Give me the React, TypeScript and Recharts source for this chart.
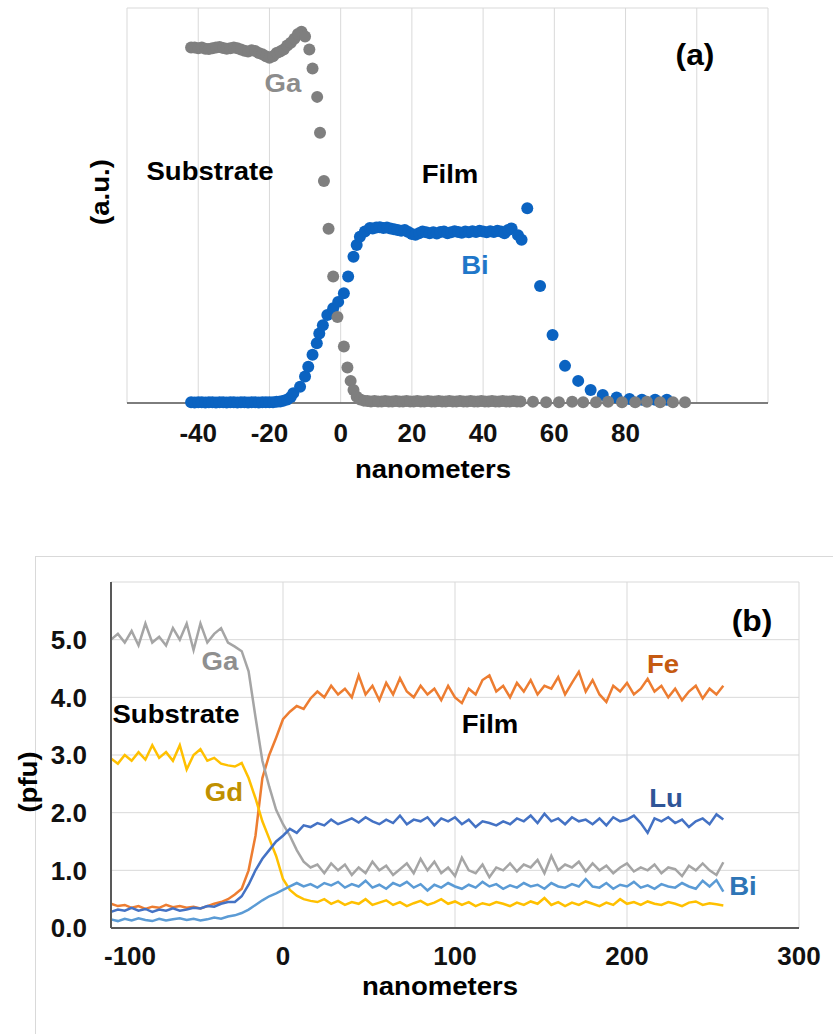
import React from 'react'
import { ScatterChart, Scatter, LineChart, Line, XAxis, YAxis, CartesianGrid } from 'recharts'

const font = '"Liberation Sans", Arial, sans-serif'

// ---- panel (a): depth profile, arbitrary units ----
const ticksA = [-60, -40, -20, 0, 20, 40, 60, 80, 100, 120]
const labelsA = [-40, -20, 0, 20, 40, 60, 80]
const yTicksA = [0, 1, 2, 3, 4, 5, 6, 7, 8, 9, 10]

const gaAX = [
  -42, -41, -40, -39, -38, -37, -36, -35, -34, -33, -32, -31, -30, -29, -28, -27, -26, -25, -24, -23, -22, -21, -20,
  -19, -18, -17, -16, -15, -14, -13, -12, -11, -10,
  -8.8, -7.9, -6.6, -5.8, -4.7, -3.4, -2.1, -0.9, 0.9, 1.9, 2.8, 3.6, 4.5, 5.5, 6.5,
  7.5, 8.5, 9.5, 10.5, 11.5, 12.5, 13.5, 14.5, 15.5, 16.5, 17.5, 18.5, 19.5, 20.5, 21.5, 22.5, 23.5, 24.5, 25.5, 26.5,
  27.5, 28.5, 29.5, 30.5, 31.5, 32.5, 33.5, 34.5, 35.5, 36.5, 37.5, 38.5, 39.5, 40.5, 41.5, 42.5, 43.5, 44.5, 45.5,
  46.5, 47.5, 48.5, 49.5, 50.5,
  54.0, 57.7, 61.3, 65.0, 68.1, 71.7, 75.1, 79.0, 82.7, 86.0, 89.7, 93.3, 96.7,
]
const gaAY = [
  9.0, 9.0, 8.98, 9.0, 8.97, 8.96, 8.98, 9.0, 9.01, 8.99, 8.97, 8.98, 9.0, 8.98, 8.95, 8.92, 8.9, 8.93, 8.91, 8.86,
  8.83, 8.78, 8.74, 8.78, 8.86, 8.9, 8.95, 9.05, 9.12, 9.22, 9.34, 9.4, 9.28,
  8.95, 8.47, 7.75, 6.84, 5.62, 4.41, 3.2, 2.18, 1.43, 0.9, 0.56, 0.33, 0.16, 0.09, 0.06,
  0.05, 0.04, 0.05, 0.04, 0.04, 0.05, 0.04, 0.04, 0.05, 0.04, 0.04, 0.05, 0.04, 0.04, 0.05, 0.04, 0.04, 0.05, 0.04,
  0.04, 0.05, 0.04, 0.04, 0.05, 0.04, 0.04, 0.05, 0.04, 0.04, 0.05, 0.04, 0.04, 0.05, 0.04, 0.04, 0.05, 0.04, 0.04,
  0.05, 0.04, 0.04, 0.05, 0.04, 0.04,
  0.03, 0.02, 0.02, 0.03, 0.02, 0.02, 0.03, 0.02, 0.02, 0.03, 0.02, 0.02, 0.02,
]

const biAX = [
  -42, -41, -40, -39, -38, -37, -36, -35, -34, -33, -32, -31, -30, -29, -28, -27, -26, -25, -24, -23, -22, -21, -20,
  -19, -18, -17, -16, -15, -14,
  -13.3, -11.4, -10, -9.1, -7.9, -6.7, -6.0, -5.0, -3.75, -2.1, -0.7, 0.9, 2.1, 3.6, 4.5, 5.4, 6.8, 8.2,
  9, 10, 11, 12, 13, 14, 15, 16, 17, 18, 19, 20, 21, 22, 23, 24, 25, 26, 27, 28, 29, 30, 31, 32, 33, 34, 35, 36, 37,
  38, 39, 40, 41, 42, 43, 44, 45, 46, 47, 48,
  49.8, 50.8, 52.4, 56.0, 59.5, 63.0, 66.7, 70.2, 73.6, 77.5, 81.1, 84.6, 88.3, 91.6,
]
const biAY = [
  0.02, 0.01, 0.02, 0.02, 0.01, 0.02, 0.02, 0.01, 0.02, 0.02, 0.01, 0.02, 0.02, 0.01, 0.02, 0.02, 0.01, 0.02, 0.02,
  0.01, 0.02, 0.02, 0.02, 0.02, 0.03, 0.04, 0.06, 0.09, 0.15,
  0.25, 0.41, 0.67, 0.92, 1.22, 1.51, 1.76, 1.97, 2.23, 2.4, 2.56, 2.78, 3.2, 3.7, 4.0, 4.21, 4.34, 4.43,
  4.42, 4.44, 4.45, 4.43, 4.44, 4.42, 4.4, 4.38, 4.36, 4.38, 4.33, 4.28, 4.26, 4.3, 4.34, 4.32, 4.3, 4.32, 4.29, 4.33,
  4.34, 4.3, 4.32, 4.35, 4.33, 4.31, 4.34, 4.32, 4.35, 4.33, 4.36, 4.34, 4.32, 4.35, 4.33, 4.36, 4.34, 4.3, 4.38, 4.42,
  4.25, 4.13, 4.93, 2.96, 1.72, 0.94, 0.56, 0.33, 0.2, 0.14, 0.1, 0.08, 0.08, 0.08,
]

// ---- panel (b): depth profile, pfu ----
const xB = [
  -100, -96, -92, -88, -84, -80, -76, -72, -68, -64,
  -60, -56, -52, -48, -44, -40, -36, -32, -28, -24,
  -20, -16, -12, -8, -4, 0, 4, 8, 12, 16,
  20, 24, 28, 32, 36, 40, 44, 48, 52, 56,
  60, 64, 68, 72, 76, 80, 84, 88, 92, 96,
  100, 104, 108, 112, 116, 120, 124, 128, 132, 136,
  140, 144, 148, 152, 156, 160, 164, 168, 172, 176,
  180, 184, 188, 192, 196, 200, 204, 208, 212, 216,
  220, 224, 228, 232, 236, 240, 244, 248, 252, 256,
]
const feB = [
  0.42, 0.38, 0.4, 0.35, 0.38, 0.33, 0.37, 0.35, 0.4, 0.36,
  0.38, 0.35, 0.37, 0.34, 0.38, 0.42, 0.45, 0.5, 0.58, 0.68,
  1.0, 1.6, 2.6, 3.0, 3.3, 3.62, 3.75, 3.85, 3.8, 3.98,
  4.1, 4.0, 4.2, 4.05, 4.15, 4.0, 4.38, 4.05, 4.2, 3.95,
  4.25, 4.05, 4.33, 4.1, 4.0, 4.2, 4.05, 4.15, 3.95, 4.2,
  4.0, 3.9, 4.15, 4.05, 4.3, 4.38, 4.1, 4.2, 4.0, 4.25,
  4.1, 4.3, 4.05, 4.2, 4.15, 4.35, 4.05, 4.25, 4.44, 4.1,
  4.3, 4.05, 3.92, 4.2, 4.1, 4.25, 4.05, 4.15, 4.32, 4.1,
  4.2, 4.0, 4.15, 3.95, 4.1, 4.2, 3.98, 4.15, 4.05, 4.2,
]
const gaB = [
  5.0, 5.1, 4.95, 5.15, 4.9, 5.28, 4.95, 5.05, 4.9, 5.2,
  5.0, 5.28, 4.82, 5.28, 4.95, 5.1, 5.2, 4.95, 4.88, 4.8,
  4.45, 3.66, 2.9, 2.45, 2.05, 1.8, 1.6, 1.35, 1.15, 1.05,
  1.1, 0.95, 1.12, 1.0, 1.1, 0.92, 1.05, 0.95, 1.15, 1.0,
  1.08, 0.92, 1.02, 1.12, 0.95, 1.2, 1.0, 1.15, 0.95, 1.05,
  0.9, 1.22, 1.0, 0.95, 1.1, 0.88, 1.05, 1.0, 1.12, 0.98,
  1.1, 1.05, 1.18, 0.95, 1.25, 1.0, 1.1, 1.05, 1.15, 0.98,
  1.12, 1.0, 1.08, 0.95, 1.05, 1.12, 0.98, 1.05, 1.0, 1.1,
  0.95, 1.05, 1.02, 0.9, 1.08, 1.0, 1.12, 1.0, 0.92, 1.14,
]
const gdB = [
  2.94, 2.85, 3.0, 2.9, 3.05, 2.92, 3.17, 2.95, 3.05, 2.9,
  3.17, 2.75, 3.0, 3.1, 2.9, 2.95, 2.85, 2.82, 2.8, 2.86,
  2.6, 2.25, 1.85, 1.55, 1.25, 0.85, 0.66, 0.56, 0.5, 0.47,
  0.45, 0.5, 0.42, 0.47, 0.4, 0.45, 0.42, 0.5, 0.4, 0.44,
  0.48, 0.4, 0.45, 0.38, 0.43, 0.47, 0.4, 0.44, 0.5, 0.42,
  0.46, 0.4, 0.45, 0.38, 0.43, 0.4, 0.45, 0.42, 0.38, 0.44,
  0.4, 0.46, 0.42, 0.52, 0.4, 0.45, 0.38, 0.44, 0.4, 0.46,
  0.42, 0.38, 0.44, 0.4, 0.5, 0.42, 0.45, 0.4, 0.46, 0.42,
  0.4, 0.45, 0.42, 0.38, 0.44, 0.46, 0.4, 0.43, 0.41, 0.39,
]
const luB = [
  0.28, 0.32, 0.3, 0.35, 0.3, 0.33, 0.28, 0.32, 0.3, 0.34,
  0.3, 0.32, 0.35, 0.34, 0.38, 0.37, 0.42, 0.45, 0.45, 0.55,
  0.75, 1.0, 1.2, 1.35, 1.5, 1.6, 1.72, 1.65, 1.78, 1.75,
  1.82, 1.78, 1.88, 1.8, 1.85, 1.9, 1.83, 1.92, 1.85, 1.8,
  1.88, 1.82, 1.95, 1.8, 1.88, 1.85, 1.92, 1.78, 1.9, 1.85,
  1.92, 1.8, 1.88, 1.75, 1.85, 1.82, 1.78, 1.85, 1.8, 1.9,
  1.85, 1.95, 1.82, 1.98, 1.85, 1.9, 1.8, 1.92, 1.85, 1.88,
  1.8, 1.9, 1.78, 1.92, 1.85, 1.88, 1.95, 1.82, 1.65, 1.9,
  1.85, 1.92, 1.82, 1.88, 1.75, 1.85, 1.9, 1.8, 1.97, 1.88,
]
const biB = [
  0.15, 0.12, 0.16, 0.13, 0.17, 0.14, 0.12, 0.16, 0.13, 0.15,
  0.17, 0.14, 0.16, 0.13, 0.15, 0.18, 0.16, 0.2, 0.22, 0.26,
  0.32, 0.4, 0.48, 0.55, 0.6, 0.66, 0.72, 0.78, 0.72, 0.76,
  0.7, 0.78, 0.74, 0.8, 0.7, 0.76, 0.72, 0.82, 0.7, 0.75,
  0.68, 0.78, 0.73, 0.8, 0.7, 0.76, 0.65, 0.75, 0.7, 0.78,
  0.72, 0.68, 0.75, 0.7, 0.8, 0.72, 0.76, 0.68, 0.74, 0.7,
  0.78, 0.72, 0.75, 0.68, 0.78, 0.72, 0.7, 0.76, 0.72, 0.85,
  0.72, 0.7, 0.78, 0.68, 0.75, 0.72, 0.8, 0.7, 0.74, 0.68,
  0.76, 0.72, 0.7, 0.78, 0.72, 0.68, 0.82, 0.72, 0.83, 0.63,
]
const ticksB = [-100, 0, 100, 200, 300]
const yTicksB = [0, 1, 2, 3, 4, 5, 6]

const gaAData = gaAX.map((x, i) => ({ x, y: gaAY[i] }))
const biAData = biAX.map((x, i) => ({ x, y: biAY[i] }))
const rowsB = xB.map((x, i) => ({ x, Fe: feB[i], Ga: gaB[i], Gd: gdB[i], Lu: luB[i], Bi: biB[i] }))

const dot = (color: string) => (p: any) => <circle cx={p.cx} cy={p.cy} r={6} fill={color} />

const TickA = (props: any) => {
  const { x, y, payload } = props
  if (!labelsA.includes(payload.value)) return <g />
  return (
    <text x={x} y={y} dy="0.71em" textAnchor="middle" fontFamily={font} fontWeight="bold" fontSize={26} fill="#111">
      {payload.value}
    </text>
  )
}

const TickBX = (props: any) => {
  const { x, y, payload } = props
  const shift = payload.value === -100 ? 19 : 0
  return (
    <text x={x + shift} y={y} dy="0.71em" textAnchor="middle" fontFamily={font} fontWeight="bold" fontSize={26} fill="#111">
      {payload.value}
    </text>
  )
}

const TickBY = (props: any) => {
  const { x, y, payload } = props
  if (payload.value === 6) return <g />
  return (
    <text x={x} y={y} dy="0.355em" textAnchor="end" fontFamily={font} fontWeight="bold" fontSize={26} fill="#111">
      {payload.value.toFixed(1)}
    </text>
  )
}

function Note({ x, y, text, color = '#000', size = 26, rotate = false }: any) {
  return (
    <div
      style={{
        position: 'absolute',
        left: x,
        top: y,
        transform: `translate(-50%, -50%)${rotate ? ' rotate(-90deg)' : ''} scaleX(1.06)`,
        fontFamily: font,
        fontWeight: 'bold',
        fontSize: size,
        lineHeight: 1,
        color,
        whiteSpace: 'nowrap',
      }}
    >
      {text}
    </div>
  )
}

export default function App() {
  return (
    <div style={{ position: 'absolute', left: 0, top: 0, width: 833, height: 1034, background: '#fff', overflow: 'hidden' }}>
      <div style={{ position: 'absolute', left: 0, top: 0 }}>
        <ScatterChart width={833} height={500} margin={{ top: 8, right: 65, bottom: 37, left: 127 }}>
          <CartesianGrid stroke="#d9d9d9" />
          <XAxis
            type="number"
            dataKey="x"
            domain={[-60, 120]}
            ticks={ticksA}
            tick={<TickA />}
            tickLine={false}
            tickSize={6}
            tickMargin={15}
            height={60}
            axisLine={{ stroke: '#595959', strokeWidth: 1.5 }}
          />
          <YAxis
            type="number"
            dataKey="y"
            domain={[0, 10]}
            ticks={yTicksA}
            tick={false}
            tickLine={false}
            width={0}
            axisLine={{ stroke: '#595959', strokeWidth: 1 }}
          />
          <Scatter data={biAData} fill="#0b63c1" shape={dot('#0b63c1')} isAnimationActive={false} />
          <Scatter data={gaAData} fill="#7f7f7f" shape={dot('#7f7f7f')} isAnimationActive={false} />
        </ScatterChart>
        <Note x={283} y={83} text="Ga" color="#8c8c8c" />
        <Note x={210} y={171} text="Substrate" />
        <Note x={450} y={174} text="Film" />
        <Note x={475} y={265} text="Bi" color="#1f77c9" />
        <Note x={695} y={55} text="(a)" size={30} />
        <Note x={100} y={192} text="(a.u.)" rotate />
        <Note x={433} y={469} text="nanometers" />
      </div>

      <div style={{ position: 'absolute', left: 35, top: 556, width: 820, height: 500, borderLeft: '1px solid #d9d9d9', borderTop: '1px solid #d9d9d9' }} />

      <div style={{ position: 'absolute', left: 0, top: 540 }}>
        <LineChart width={833} height={480} data={rowsB} margin={{ top: 42, right: 34, bottom: 42, left: 51 }}>
          <CartesianGrid stroke="#d9d9d9" />
          <XAxis
            type="number"
            dataKey="x"
            domain={[-100, 300]}
            ticks={ticksB}
            tick={<TickBX />}
            tickLine={false}
            tickSize={6}
            tickMargin={13}
            height={50}
            axisLine={{ stroke: '#595959', strokeWidth: 2 }}
          />
          <YAxis
            type="number"
            domain={[0, 6]}
            ticks={yTicksB}
            tick={<TickBY />}
            tickLine={false}
            tickSize={6}
            tickMargin={18}
            width={60}
            axisLine={{ stroke: '#595959', strokeWidth: 2 }}
          />
          <Line dataKey="Fe" stroke="#ed7d31" strokeWidth={2.5} dot={false} isAnimationActive={false} />
          <Line dataKey="Ga" stroke="#a5a5a5" strokeWidth={2.5} dot={false} isAnimationActive={false} />
          <Line dataKey="Gd" stroke="#ffc000" strokeWidth={2.5} dot={false} isAnimationActive={false} />
          <Line dataKey="Lu" stroke="#4472c4" strokeWidth={2.5} dot={false} isAnimationActive={false} />
          <Line dataKey="Bi" stroke="#5b9bd5" strokeWidth={2.5} dot={false} isAnimationActive={false} />
        </LineChart>
        <Note x={220} y={121} text="Ga" color="#8f8f8f" />
        <Note x={176} y={174} text="Substrate" />
        <Note x={224} y={252} text="Gd" color="#bf9000" />
        <Note x={490} y={184} text="Film" />
        <Note x={663} y={124} text="Fe" color="#c55a11" />
        <Note x={666} y={258} text="Lu" color="#2f5597" />
        <Note x={743} y={346} text="Bi" color="#2e75b6" />
        <Note x={752} y={81} text="(b)" size={30} />
        <Note x={28} y={242} text="(pfu)" rotate />
        <Note x={440} y={446} text="nanometers" />
      </div>
    </div>
  )
}
